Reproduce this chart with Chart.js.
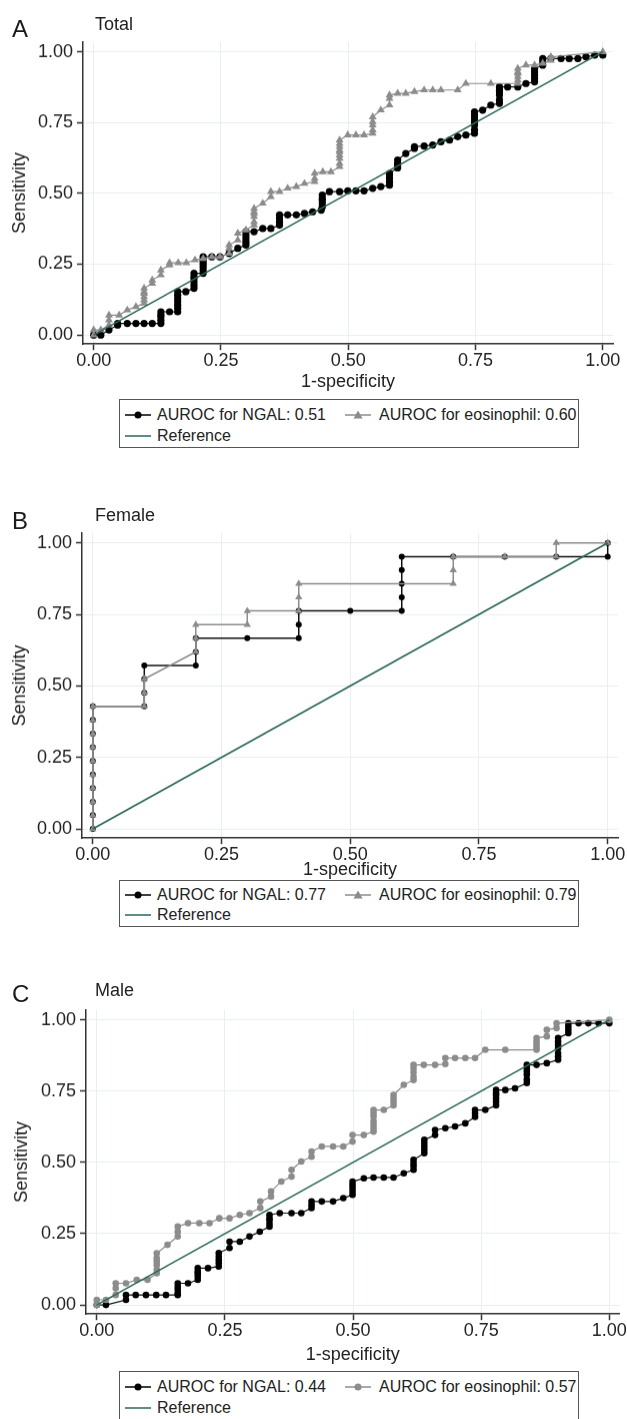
<!DOCTYPE html>
<html>
<head>
<meta charset="utf-8">
<script src="https://cdn.jsdelivr.net/npm/chart.js@4.4.1/dist/chart.umd.min.js"></script>
<style>
  body { margin: 0; width: 627px; height: 1419px; overflow: hidden; background: #fff;
         font-family: "Liberation Sans", Arial, sans-serif; color: #222; position: relative; }
  .letter { position: absolute; left: 12px; font-size: 24px; line-height: 24px; color: #1a1a1a; }
  .ptitle { position: absolute; left: 95px; font-size: 18px; line-height: 18px; }
  canvas { position: absolute; left: 0; }
  .legend { position: absolute; left: 119px; width: 460px; border: 1px solid #555;
            box-sizing: border-box; background: #fff; }
  .legend .it { position: absolute; font-size: 16px; line-height: 16px; white-space: nowrap; }
  .legend svg { position: absolute; }
</style>
</head>
<body>

<script>
// --- datos, pares [1-especificidad, sensibilidad] ---

const axisTicks = [0, 0.25, 0.5, 0.75, 1];
const refLine = [[0, 0], [1, 1]];

// A: Total
const totalNgal = [[0,0],[0.014,0],[0.03,0.018],[0.047,0.035],[0.047,0.041],[0.066,0.041],[0.083,0.041],[0.099,0.041],[0.115,0.041],[0.132,0.041],[0.132,0.053],[0.132,0.065],[0.132,0.071],[0.132,0.082],[0.149,0.082],[0.165,0.082],[0.165,0.094],[0.165,0.106],[0.165,0.118],[0.165,0.129],[0.165,0.141],[0.165,0.153],[0.181,0.153],[0.197,0.165],[0.197,0.176],[0.197,0.188],[0.197,0.2],[0.197,0.206],[0.197,0.218],[0.215,0.218],[0.215,0.229],[0.215,0.24],[0.215,0.25],[0.215,0.259],[0.215,0.265],[0.215,0.276],[0.232,0.276],[0.248,0.276],[0.266,0.288],[0.283,0.306],[0.299,0.318],[0.299,0.329],[0.299,0.341],[0.299,0.353],[0.299,0.365],[0.315,0.365],[0.332,0.376],[0.348,0.376],[0.365,0.388],[0.365,0.4],[0.365,0.412],[0.365,0.424],[0.381,0.424],[0.398,0.424],[0.414,0.429],[0.43,0.435],[0.447,0.441],[0.449,0.453],[0.449,0.465],[0.449,0.476],[0.449,0.482],[0.449,0.494],[0.463,0.506],[0.483,0.506],[0.499,0.509],[0.515,0.509],[0.531,0.509],[0.548,0.518],[0.564,0.524],[0.581,0.529],[0.581,0.541],[0.581,0.553],[0.581,0.565],[0.581,0.57],[0.597,0.59],[0.597,0.6],[0.597,0.606],[0.597,0.618],[0.613,0.641],[0.63,0.659],[0.63,0.665],[0.649,0.667],[0.666,0.671],[0.682,0.682],[0.699,0.688],[0.715,0.7],[0.731,0.706],[0.748,0.712],[0.748,0.724],[0.748,0.741],[0.748,0.753],[0.748,0.765],[0.748,0.776],[0.748,0.788],[0.764,0.794],[0.78,0.812],[0.797,0.818],[0.797,0.83],[0.797,0.847],[0.797,0.859],[0.797,0.865],[0.797,0.876],[0.813,0.876],[0.833,0.876],[0.849,0.888],[0.866,0.894],[0.866,0.906],[0.866,0.918],[0.866,0.929],[0.866,0.941],[0.882,0.953],[0.882,0.965],[0.882,0.976],[0.898,0.976],[0.918,0.976],[0.934,0.976],[0.951,0.976],[0.967,0.982],[0.984,0.988],[1,0.988]];
const totalEos = [[0,0],[0,0.018],[0.014,0.018],[0.03,0.035],[0.03,0.053],[0.03,0.07],[0.05,0.07],[0.066,0.088],[0.083,0.1],[0.099,0.112],[0.099,0.124],[0.099,0.135],[0.099,0.147],[0.099,0.153],[0.099,0.165],[0.115,0.182],[0.115,0.194],[0.132,0.212],[0.132,0.229],[0.149,0.247],[0.149,0.255],[0.166,0.255],[0.182,0.255],[0.199,0.265],[0.215,0.27],[0.232,0.276],[0.248,0.276],[0.266,0.288],[0.266,0.306],[0.266,0.318],[0.283,0.335],[0.283,0.359],[0.299,0.371],[0.315,0.388],[0.315,0.4],[0.315,0.418],[0.315,0.429],[0.315,0.435],[0.315,0.447],[0.332,0.465],[0.348,0.488],[0.348,0.506],[0.365,0.506],[0.381,0.518],[0.398,0.524],[0.414,0.535],[0.434,0.541],[0.434,0.553],[0.434,0.571],[0.45,0.576],[0.466,0.576],[0.483,0.594],[0.483,0.606],[0.483,0.624],[0.483,0.635],[0.483,0.647],[0.483,0.653],[0.483,0.665],[0.483,0.676],[0.483,0.688],[0.499,0.706],[0.515,0.706],[0.531,0.706],[0.548,0.712],[0.548,0.724],[0.548,0.741],[0.548,0.753],[0.548,0.77],[0.564,0.794],[0.581,0.812],[0.581,0.835],[0.581,0.847],[0.597,0.853],[0.613,0.853],[0.63,0.859],[0.649,0.865],[0.666,0.865],[0.682,0.865],[0.715,0.865],[0.731,0.888],[0.78,0.888],[0.833,0.888],[0.833,0.9],[0.833,0.912],[0.833,0.924],[0.833,0.929],[0.833,0.941],[0.849,0.953],[0.866,0.953],[0.882,0.959],[0.898,0.97],[0.898,0.982],[1,1]];
const totalLegend = ['AUROC for NGAL: 0.51', 'AUROC for eosinophil: 0.60', 'Reference'];

// B: Female
const femaleNgal = [[0,0],[0,0.048],[0,0.095],[0,0.143],[0,0.19],[0,0.238],[0,0.286],[0,0.333],[0,0.381],[0,0.429],[0.1,0.429],[0.1,0.476],[0.1,0.524],[0.1,0.571],[0.2,0.571],[0.2,0.619],[0.2,0.667],[0.3,0.667],[0.4,0.667],[0.4,0.714],[0.4,0.762],[0.5,0.762],[0.6,0.762],[0.6,0.81],[0.6,0.857],[0.6,0.905],[0.6,0.952],[0.7,0.952],[0.8,0.952],[0.9,0.952],[1,0.952],[1,1]];
const femaleEos = [[0,0],[0,0.048],[0,0.095],[0,0.143],[0,0.19],[0,0.238],[0,0.286],[0,0.333],[0,0.381],[0,0.429],[0.1,0.429],[0.1,0.476],[0.1,0.524],[0.2,0.619],[0.2,0.667],[0.2,0.714],[0.3,0.714],[0.3,0.762],[0.4,0.762],[0.4,0.81],[0.4,0.857],[0.7,0.857],[0.7,0.905],[0.7,0.952],[0.8,0.952],[0.9,0.952],[0.9,1],[1,1]];
const femaleLegend = ['AUROC for NGAL: 0.77', 'AUROC for eosinophil: 0.79', 'Reference'];

// C: Male
const maleNgal = [[0,0],[0.018,0],[0.057,0.018],[0.057,0.035],[0.076,0.035],[0.096,0.035],[0.116,0.035],[0.135,0.035],[0.158,0.035],[0.158,0.041],[0.158,0.053],[0.158,0.064],[0.158,0.076],[0.178,0.076],[0.197,0.088],[0.197,0.1],[0.197,0.111],[0.197,0.117],[0.197,0.129],[0.217,0.129],[0.238,0.135],[0.238,0.147],[0.238,0.158],[0.238,0.17],[0.238,0.182],[0.259,0.2],[0.259,0.222],[0.279,0.222],[0.298,0.24],[0.318,0.257],[0.337,0.275],[0.337,0.286],[0.337,0.298],[0.337,0.304],[0.337,0.316],[0.357,0.322],[0.38,0.322],[0.399,0.322],[0.419,0.34],[0.419,0.351],[0.419,0.363],[0.439,0.363],[0.461,0.363],[0.481,0.375],[0.499,0.386],[0.499,0.398],[0.499,0.41],[0.499,0.421],[0.499,0.433],[0.521,0.444],[0.54,0.447],[0.56,0.447],[0.579,0.447],[0.599,0.462],[0.618,0.474],[0.618,0.486],[0.618,0.497],[0.618,0.509],[0.639,0.532],[0.639,0.544],[0.639,0.556],[0.639,0.567],[0.639,0.579],[0.66,0.596],[0.66,0.614],[0.68,0.62],[0.699,0.626],[0.719,0.637],[0.738,0.66],[0.738,0.672],[0.738,0.684],[0.758,0.684],[0.779,0.7],[0.779,0.713],[0.779,0.725],[0.779,0.737],[0.779,0.743],[0.779,0.754],[0.797,0.754],[0.816,0.76],[0.839,0.778],[0.839,0.79],[0.839,0.807],[0.839,0.819],[0.839,0.83],[0.839,0.842],[0.858,0.842],[0.878,0.848],[0.9,0.86],[0.9,0.871],[0.9,0.883],[0.9,0.9],[0.9,0.912],[0.9,0.924],[0.9,0.936],[0.92,0.953],[0.92,0.965],[0.92,0.977],[0.92,0.988],[0.94,0.988],[0.959,0.988],[0.979,0.988],[1,0.988]];
const maleEos = [[0,0],[0,0.018],[0.018,0.018],[0.037,0.035],[0.037,0.058],[0.037,0.076],[0.057,0.076],[0.078,0.088],[0.099,0.088],[0.117,0.111],[0.117,0.123],[0.117,0.14],[0.117,0.152],[0.117,0.164],[0.117,0.181],[0.138,0.211],[0.158,0.24],[0.158,0.257],[0.158,0.275],[0.178,0.287],[0.2,0.287],[0.22,0.287],[0.239,0.304],[0.259,0.304],[0.279,0.316],[0.298,0.322],[0.319,0.34],[0.319,0.363],[0.34,0.38],[0.34,0.398],[0.36,0.433],[0.38,0.45],[0.38,0.474],[0.399,0.503],[0.419,0.52],[0.419,0.538],[0.439,0.556],[0.461,0.556],[0.481,0.556],[0.499,0.573],[0.499,0.596],[0.521,0.596],[0.54,0.608],[0.54,0.62],[0.54,0.632],[0.54,0.645],[0.54,0.661],[0.54,0.673],[0.54,0.684],[0.56,0.684],[0.579,0.7],[0.579,0.713],[0.579,0.725],[0.579,0.737],[0.599,0.772],[0.618,0.789],[0.618,0.8],[0.618,0.816],[0.618,0.83],[0.618,0.842],[0.638,0.842],[0.66,0.842],[0.68,0.845],[0.68,0.866],[0.699,0.866],[0.719,0.866],[0.738,0.866],[0.758,0.895],[0.797,0.895],[0.858,0.895],[0.858,0.905],[0.858,0.915],[0.858,0.925],[0.858,0.936],[0.878,0.942],[0.878,0.965],[0.897,0.971],[0.897,0.988],[1,1]];
const maleLegend = ['AUROC for NGAL: 0.44', 'AUROC for eosinophil: 0.57', 'Reference'];

// --- colores ---
const NGAL_COLOR = '#000000';
const EOS_COLOR = '#8c8c8c';
const REF_COLOR = '#2b675a';
const FONT = '"Liberation Sans", Arial, sans-serif';

function pts(pairs) {
    return pairs.map(p => ({ x: p[0], y: p[1] }));
}

// --- un panel = canvas + letra + título + leyenda HTML ---
function makePanel(p) {
    const W = 627;
    const titleLH = 18 * 1.2;
    const xH = (p.xTitleY - p.bottom) + titleLH / 2;
    const padLeft = p.yTitleX - titleLH / 2;
    const h = p.bottom + xH - p.top0;

    const cv = document.createElement('canvas');
    cv.width = W; cv.height = h;
    cv.style.top = p.top0 + 'px';
    cv.style.width = W + 'px'; cv.style.height = h + 'px';
    document.body.appendChild(cv);

    const tickFont = { family: FONT, size: 18 };

    new Chart(cv, {
        type: 'scatter',
        data: {
            datasets: [{
                label: p.legend[2],
                data: pts(refLine),
                showLine: true, borderColor: REF_COLOR, borderWidth: 1.6,
                pointRadius: 0, order: 0
            }, {
                label: p.legend[1],
                data: pts(p.eos),
                showLine: true, borderColor: EOS_COLOR, borderWidth: p.lw,
                pointStyle: p.eosStyle, pointRadius: p.eosStyle === 'triangle' ? p.triR : p.r,
                pointBackgroundColor: EOS_COLOR, pointBorderColor: EOS_COLOR, pointBorderWidth: 0,
                order: 1
            }, {
                label: p.legend[0],
                data: pts(p.ngal),
                showLine: true, borderColor: '#111', borderWidth: p.lw,
                pointStyle: 'circle', pointRadius: p.r,
                pointBackgroundColor: NGAL_COLOR, pointBorderColor: NGAL_COLOR, pointBorderWidth: 0,
                order: 2
            }]
        },
        options: {
            responsive: false,
            animation: false,
            layout: { padding: { left: padLeft, right: W - p.right, top: p.top - p.top0, bottom: 0 } },
            plugins: { legend: { display: false }, tooltip: { enabled: false } },
            scales: {
                x: {
                    type: 'linear', min: -0.021, max: 1.02,
                    afterBuildTicks: s => { s.ticks = axisTicks.map(v => ({ value: v })); },
                    afterFit: s => { s.height = xH; },
                    ticks: { font: tickFont, color: '#222', padding: 0, maxRotation: 0,
                             callback: v => v.toFixed(2) },
                    grid: { color: '#e9eef0', lineWidth: 1, tickColor: '#333', tickLength: 6, tickWidth: 1.5 },
                    border: { color: '#333', width: 1.5 },
                    title: { display: true, text: '1-specificity', font: tickFont, color: '#222',
                             padding: 0 }
                },
                y: {
                    type: 'linear', min: -0.032, max: 1.034,
                    afterBuildTicks: s => { s.ticks = axisTicks.map(v => ({ value: v })); },
                    afterFit: s => { s.width = p.left - padLeft; },
                    ticks: { font: tickFont, color: '#222', padding: 4,
                             callback: v => v.toFixed(2) },
                    grid: { color: '#e9eef0', lineWidth: 1, tickColor: '#333', tickLength: 6, tickWidth: 1.5 },
                    border: { color: '#333', width: 1.5 },
                    title: { display: true, text: 'Sensitivity', font: tickFont, color: '#222',
                             padding: 0 }
                }
            }
        }
    });

    // letra y título del panel
    const L = document.createElement('div');
    L.className = 'letter'; L.textContent = p.letter;
    L.style.top = (p.letterTop - 3) + 'px';
    document.body.appendChild(L);
    const T = document.createElement('div');
    T.className = 'ptitle'; T.textContent = p.title;
    T.style.top = (p.titleTop - 2.3) + 'px';
    document.body.appendChild(T);

    // leyenda con marco
    const lg = document.createElement('div');
    lg.className = 'legend';
    lg.style.top = p.legTop + 'px';
    lg.style.height = p.legH + 'px';
    const row1 = p.row1 - p.legTop, row2 = p.row2 - p.legTop;
    const sym = (x, y, color, style) => {
        let mk = '';
        if (style === 'circle') mk = `<circle cx="13" cy="6" r="3.5" fill="${color}"/>`;
        if (style === 'triangle') mk = `<polygon points="13,1.5 17.5,9.5 8.5,9.5" fill="${color}"/>`;
        return `<svg style="left:${x}px;top:${y - 6}px" width="26" height="12">` +
               `<line x1="0" y1="6" x2="26" y2="6" stroke="${color}" stroke-width="1.5"/>${mk}</svg>`;
    };
    const txt = (x, y, s) => `<span class="it" style="left:${x}px;top:${y - 8}px">${s}</span>`;
    lg.innerHTML =
        sym(5, row1, NGAL_COLOR, 'circle') + txt(37, row1, p.legend[0]) +
        sym(225, row1, EOS_COLOR, p.eosStyle) + txt(259, row1, p.legend[1]) +
        sym(5, row2, REF_COLOR, 'none') + txt(37, row2, p.legend[2]);
    document.body.appendChild(lg);
}

// --- 3 paneles ---
makePanel({
    letter: 'A', title: 'Total', letterTop: 20, titleTop: 17,
    top0: 0, left: 83, right: 613, top: 42, bottom: 344, xTitleY: 382, yTitleX: 20,
    ngal: totalNgal, eos: totalEos,
    eosStyle: 'triangle', r: 3.6, triR: 4.6, lw: 1.2,
    legend: totalLegend, legTop: 399, legH: 49, row1: 414, row2: 435
});

makePanel({
    letter: 'B', title: 'Female', letterTop: 512, titleTop: 508,
    top0: 490, left: 82, right: 618, top: 533, bottom: 838, xTitleY: 870, yTitleX: 20,
    ngal: femaleNgal, eos: femaleEos,
    eosStyle: 'triangle', r: 3, triR: 4.2, lw: 1.5,
    legend: femaleLegend, legTop: 880, legH: 47, row1: 894, row2: 914
});

makePanel({
    letter: 'C', title: 'Male', letterTop: 985, titleTop: 983,
    top0: 965, left: 86, right: 620, top: 1010, bottom: 1314, xTitleY: 1355, yTitleX: 22,
    ngal: maleNgal, eos: maleEos,
    eosStyle: 'circle', r: 3.3, triR: 4, lw: 1.2,
    legend: maleLegend, legTop: 1371, legH: 60, row1: 1386, row2: 1407
});
</script>
</body>
</html>
